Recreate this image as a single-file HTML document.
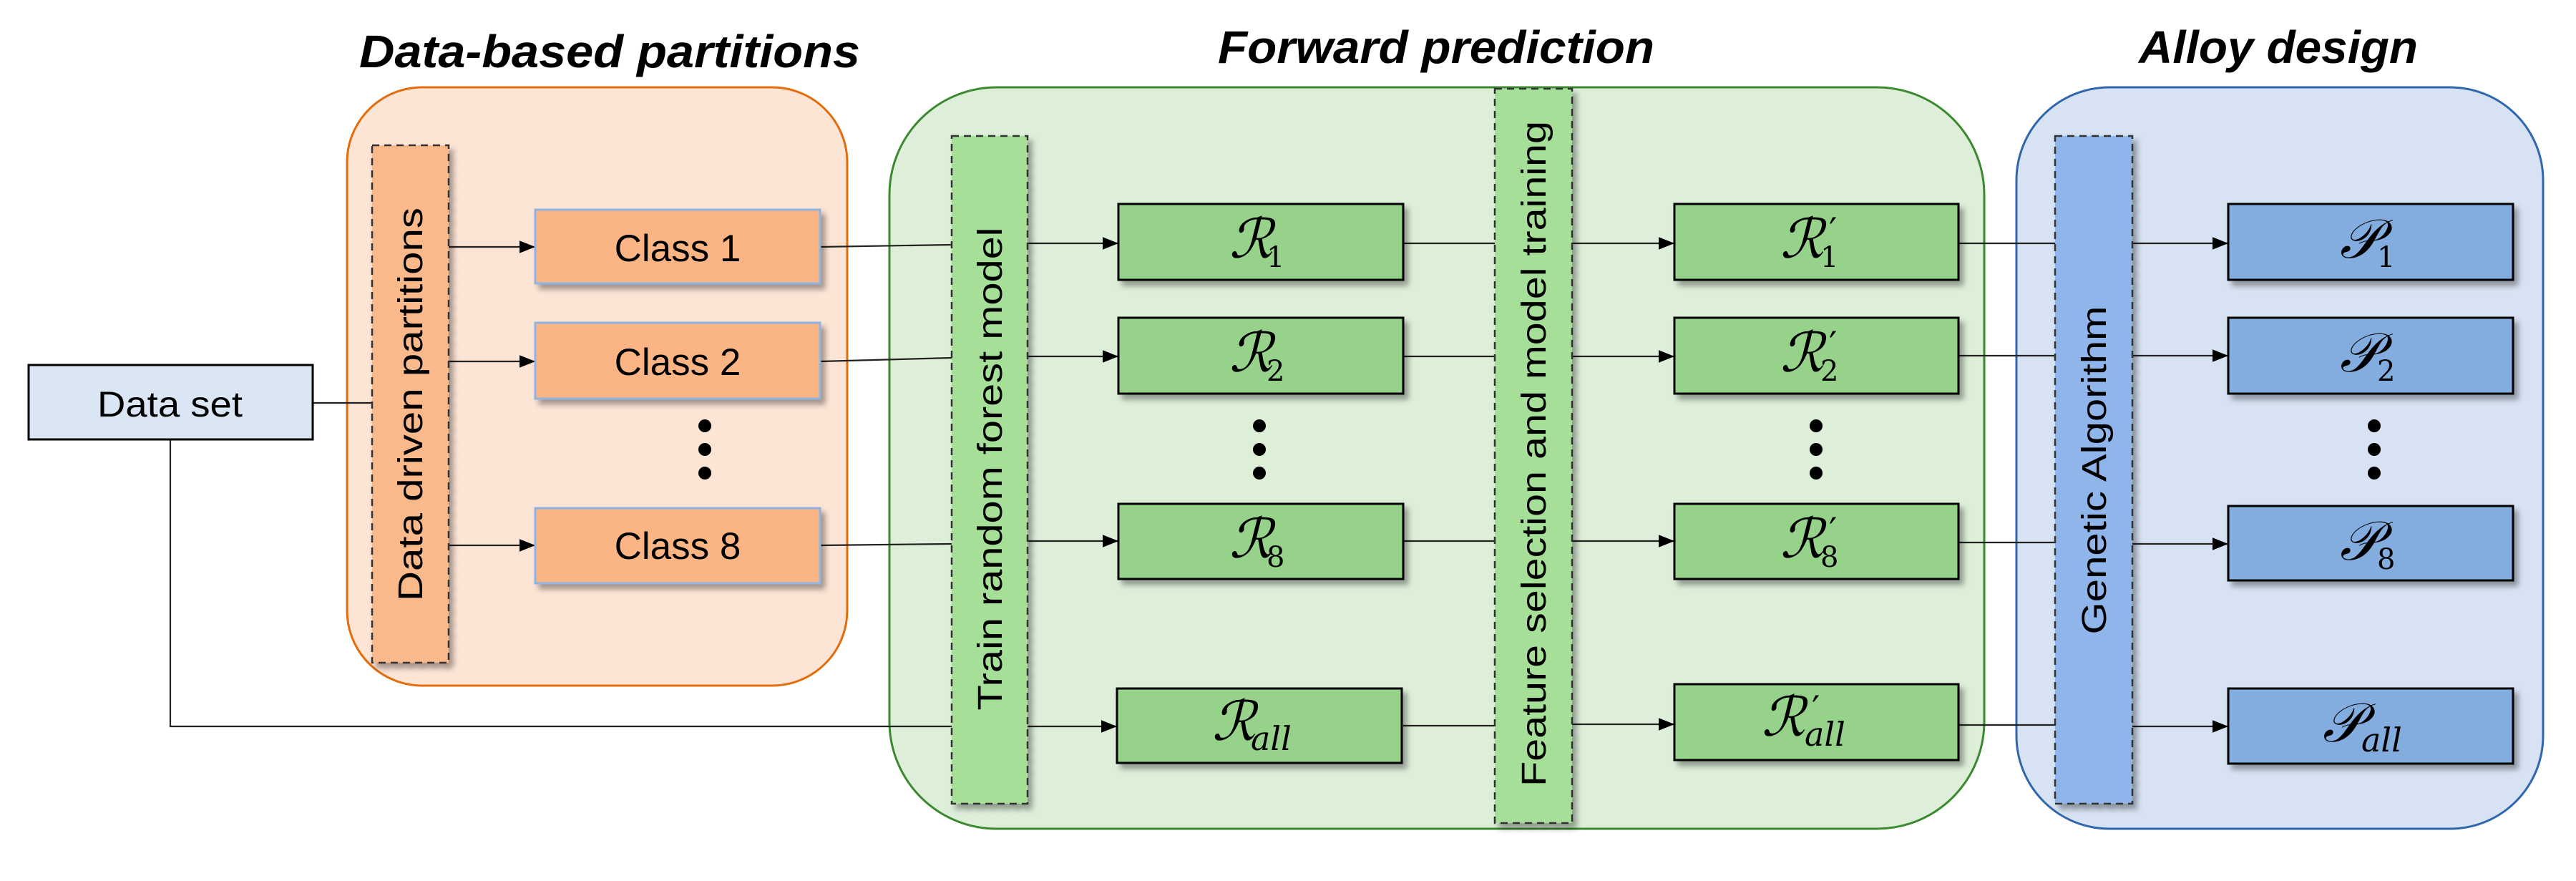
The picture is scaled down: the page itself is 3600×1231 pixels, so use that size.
<!DOCTYPE html>
<html><head><meta charset="utf-8"><style>html,body{margin:0;padding:0;background:#fff}svg{display:block}</style></head>
<body>
<svg width="3600" height="1231" viewBox="0 0 3600 1231" xmlns="http://www.w3.org/2000/svg" font-family="'Liberation Sans', 'DejaVu Sans', sans-serif">
<defs>
<filter id="sh" x="-10%" y="-20%" width="130%" height="150%"><feDropShadow dx="6" dy="7" stdDeviation="4" flood-color="#000" flood-opacity="0.35"/></filter>
<marker id="a" viewBox="0 0 20 20" refX="20" refY="10" markerWidth="22" markerHeight="22" markerUnits="userSpaceOnUse" orient="auto"><path d="M0,2 L20,10 L0,18 z" fill="#000"/></marker>
</defs>

<g font-weight="bold" font-style="italic" font-size="64" fill="#000">
<text x="502" y="94" textLength="700" lengthAdjust="spacingAndGlyphs">Data-based partitions</text>
<text x="1702" y="88" textLength="610" lengthAdjust="spacingAndGlyphs">Forward prediction</text>
<text x="2989" y="88" textLength="390" lengthAdjust="spacingAndGlyphs">Alloy design</text>
</g>

<rect x="485" y="122" width="699" height="836" rx="105" fill="#fde5d6" stroke="#e46c0a" stroke-width="3"/>
<rect x="1243" y="122" width="1530" height="1036" rx="150" fill="#ddefd9" stroke="#3b8a2f" stroke-width="3"/>
<rect x="2818" y="122" width="736" height="1036" rx="130" fill="#d7e3f3" stroke="#2f66ad" stroke-width="3"/>

<g stroke="#222" stroke-width="2.2" fill="none">
<path d="M437,563 H520"/>
<path d="M238,614 V1015 H1330"/>
<path d="M627,345 H748" marker-end="url(#a)"/>
<path d="M627,505 H748" marker-end="url(#a)"/>
<path d="M627,762 H748" marker-end="url(#a)"/>
<path d="M1146,345 L1330,342"/>
<path d="M1146,505 L1330,500"/>
<path d="M1146,762 L1330,760"/>
<path d="M1436,340 H1563" marker-end="url(#a)"/>
<path d="M1436,498 H1563" marker-end="url(#a)"/>
<path d="M1436,756 H1563" marker-end="url(#a)"/>
<path d="M1436,1015 H1561" marker-end="url(#a)"/>
<path d="M1961,340 H2089"/>
<path d="M1961,498 H2089"/>
<path d="M1961,756 H2089"/>
<path d="M1961,1014 H2089"/>
<path d="M2197,340 H2340" marker-end="url(#a)"/>
<path d="M2197,498 H2340" marker-end="url(#a)"/>
<path d="M2197,756 H2340" marker-end="url(#a)"/>
<path d="M2197,1012 H2340" marker-end="url(#a)"/>
<path d="M2737,340 H2872"/>
<path d="M2737,497 H2872"/>
<path d="M2737,758 H2872"/>
<path d="M2737,1013 H2872"/>
<path d="M2980,340 H3114" marker-end="url(#a)"/>
<path d="M2980,497 H3114" marker-end="url(#a)"/>
<path d="M2980,760 H3114" marker-end="url(#a)"/>
<path d="M2980,1015 H3114" marker-end="url(#a)"/>
</g>

<rect x="40" y="510" width="397" height="104" fill="#dae6f4" stroke="#000" stroke-width="3"/>
<text x="136" y="582" font-size="50" textLength="203" lengthAdjust="spacingAndGlyphs">Data set</text>

<g stroke="#333" stroke-width="2.5" stroke-dasharray="10,7" filter="url(#sh)">
<rect x="520" y="203" width="107" height="723" fill="#f9b98a"/>
<rect x="1330" y="190" width="106" height="933" fill="#a6df98"/>
<rect x="2089" y="124" width="108" height="1026" fill="#a6df98"/>
<rect x="2872" y="190" width="108" height="933" fill="#8fb5ea"/>
</g>
<g font-size="48" fill="#000">
<text transform="translate(590,565) rotate(-90)" text-anchor="middle" textLength="550" lengthAdjust="spacingAndGlyphs">Data driven partitions</text>
<text transform="translate(1400,655) rotate(-90)" text-anchor="middle" textLength="675" lengthAdjust="spacingAndGlyphs">Train random forest model</text>
<text transform="translate(2160,634) rotate(-90)" text-anchor="middle" textLength="930" lengthAdjust="spacingAndGlyphs">Feature selection and model training</text>
<text transform="translate(2943,657) rotate(-90)" text-anchor="middle" textLength="459" lengthAdjust="spacingAndGlyphs">Genetic Algorithm</text>
</g>

<g fill="#fbb584" stroke="#8eb4e3" stroke-width="3" filter="url(#sh)">
<rect x="748" y="293" width="398" height="103"/>
<rect x="748" y="451" width="398" height="106"/>
<rect x="748" y="710" width="398" height="105"/>
</g>
<g font-size="53" text-anchor="middle">
<text x="947" y="365">Class 1</text>
<text x="947" y="524">Class 2</text>
<text x="947" y="781">Class 8</text>
</g>

<g fill="#96d28a" stroke="#000" stroke-width="3" filter="url(#sh)">
<rect x="1563" y="285" width="398" height="106"/>
<rect x="1563" y="444" width="398" height="106"/>
<rect x="1563" y="704" width="398" height="105"/>
<rect x="1561" y="962" width="398" height="104"/>
<rect x="2340" y="285" width="397" height="106"/>
<rect x="2340" y="444" width="397" height="106"/>
<rect x="2340" y="704" width="397" height="105"/>
<rect x="2340" y="956" width="397" height="106"/>
</g>
<g fill="#83acdf" stroke="#000" stroke-width="3" filter="url(#sh)">
<rect x="3114" y="285" width="398" height="106"/>
<rect x="3114" y="444" width="398" height="106"/>
<rect x="3114" y="707" width="398" height="104"/>
<rect x="3114" y="962" width="398" height="105"/>
</g>

<g font-family="'DejaVu Serif', 'Liberation Serif', serif" fill="#000">
<g font-size="76" font-style="italic">
<text x="1718" y="360">ℛ</text>
<text x="1718" y="519">ℛ</text>
<text x="1718" y="779">ℛ</text>
<text x="1694" y="1034">ℛ</text>
<text x="2488" y="360">ℛ</text>
<text x="2488" y="519">ℛ</text>
<text x="2488" y="779">ℛ</text>
<text x="2462" y="1028">ℛ</text>
<text x="3270" y="360">𝒫</text>
<text x="3270" y="519">𝒫</text>
<text x="3270" y="782">𝒫</text>
<text x="3246" y="1036">𝒫</text>
</g>
<g font-size="40">
<text x="1770" y="373">1</text>
<text x="1770" y="532">2</text>
<text x="1770" y="792">8</text>
<text x="2544" y="373">1</text>
<text x="2544" y="532">2</text>
<text x="2544" y="792">8</text>
<text x="3322" y="373">1</text>
<text x="3322" y="532">2</text>
<text x="3322" y="795">8</text>
</g>
<g font-size="46" font-style="italic">
<text x="1748" y="1048">all</text>
<text x="2522" y="1042">all</text>
<text x="3300" y="1050">all</text>
</g>
<g font-size="50" font-family="'DejaVu Sans', sans-serif">
<text x="2556" y="340">′</text>
<text x="2556" y="499">′</text>
<text x="2556" y="759">′</text>
<text x="2532" y="1008">′</text>
</g>
</g>

<g fill="#000">
<circle cx="985" cy="595" r="9"/><circle cx="985" cy="628" r="9"/><circle cx="985" cy="661" r="9"/>
<circle cx="1760" cy="595" r="9"/><circle cx="1760" cy="628" r="9"/><circle cx="1760" cy="661" r="9"/>
<circle cx="2538" cy="595" r="9"/><circle cx="2538" cy="628" r="9"/><circle cx="2538" cy="661" r="9"/>
<circle cx="3318" cy="595" r="9"/><circle cx="3318" cy="628" r="9"/><circle cx="3318" cy="661" r="9"/>
</g>
</svg>
</body></html>
